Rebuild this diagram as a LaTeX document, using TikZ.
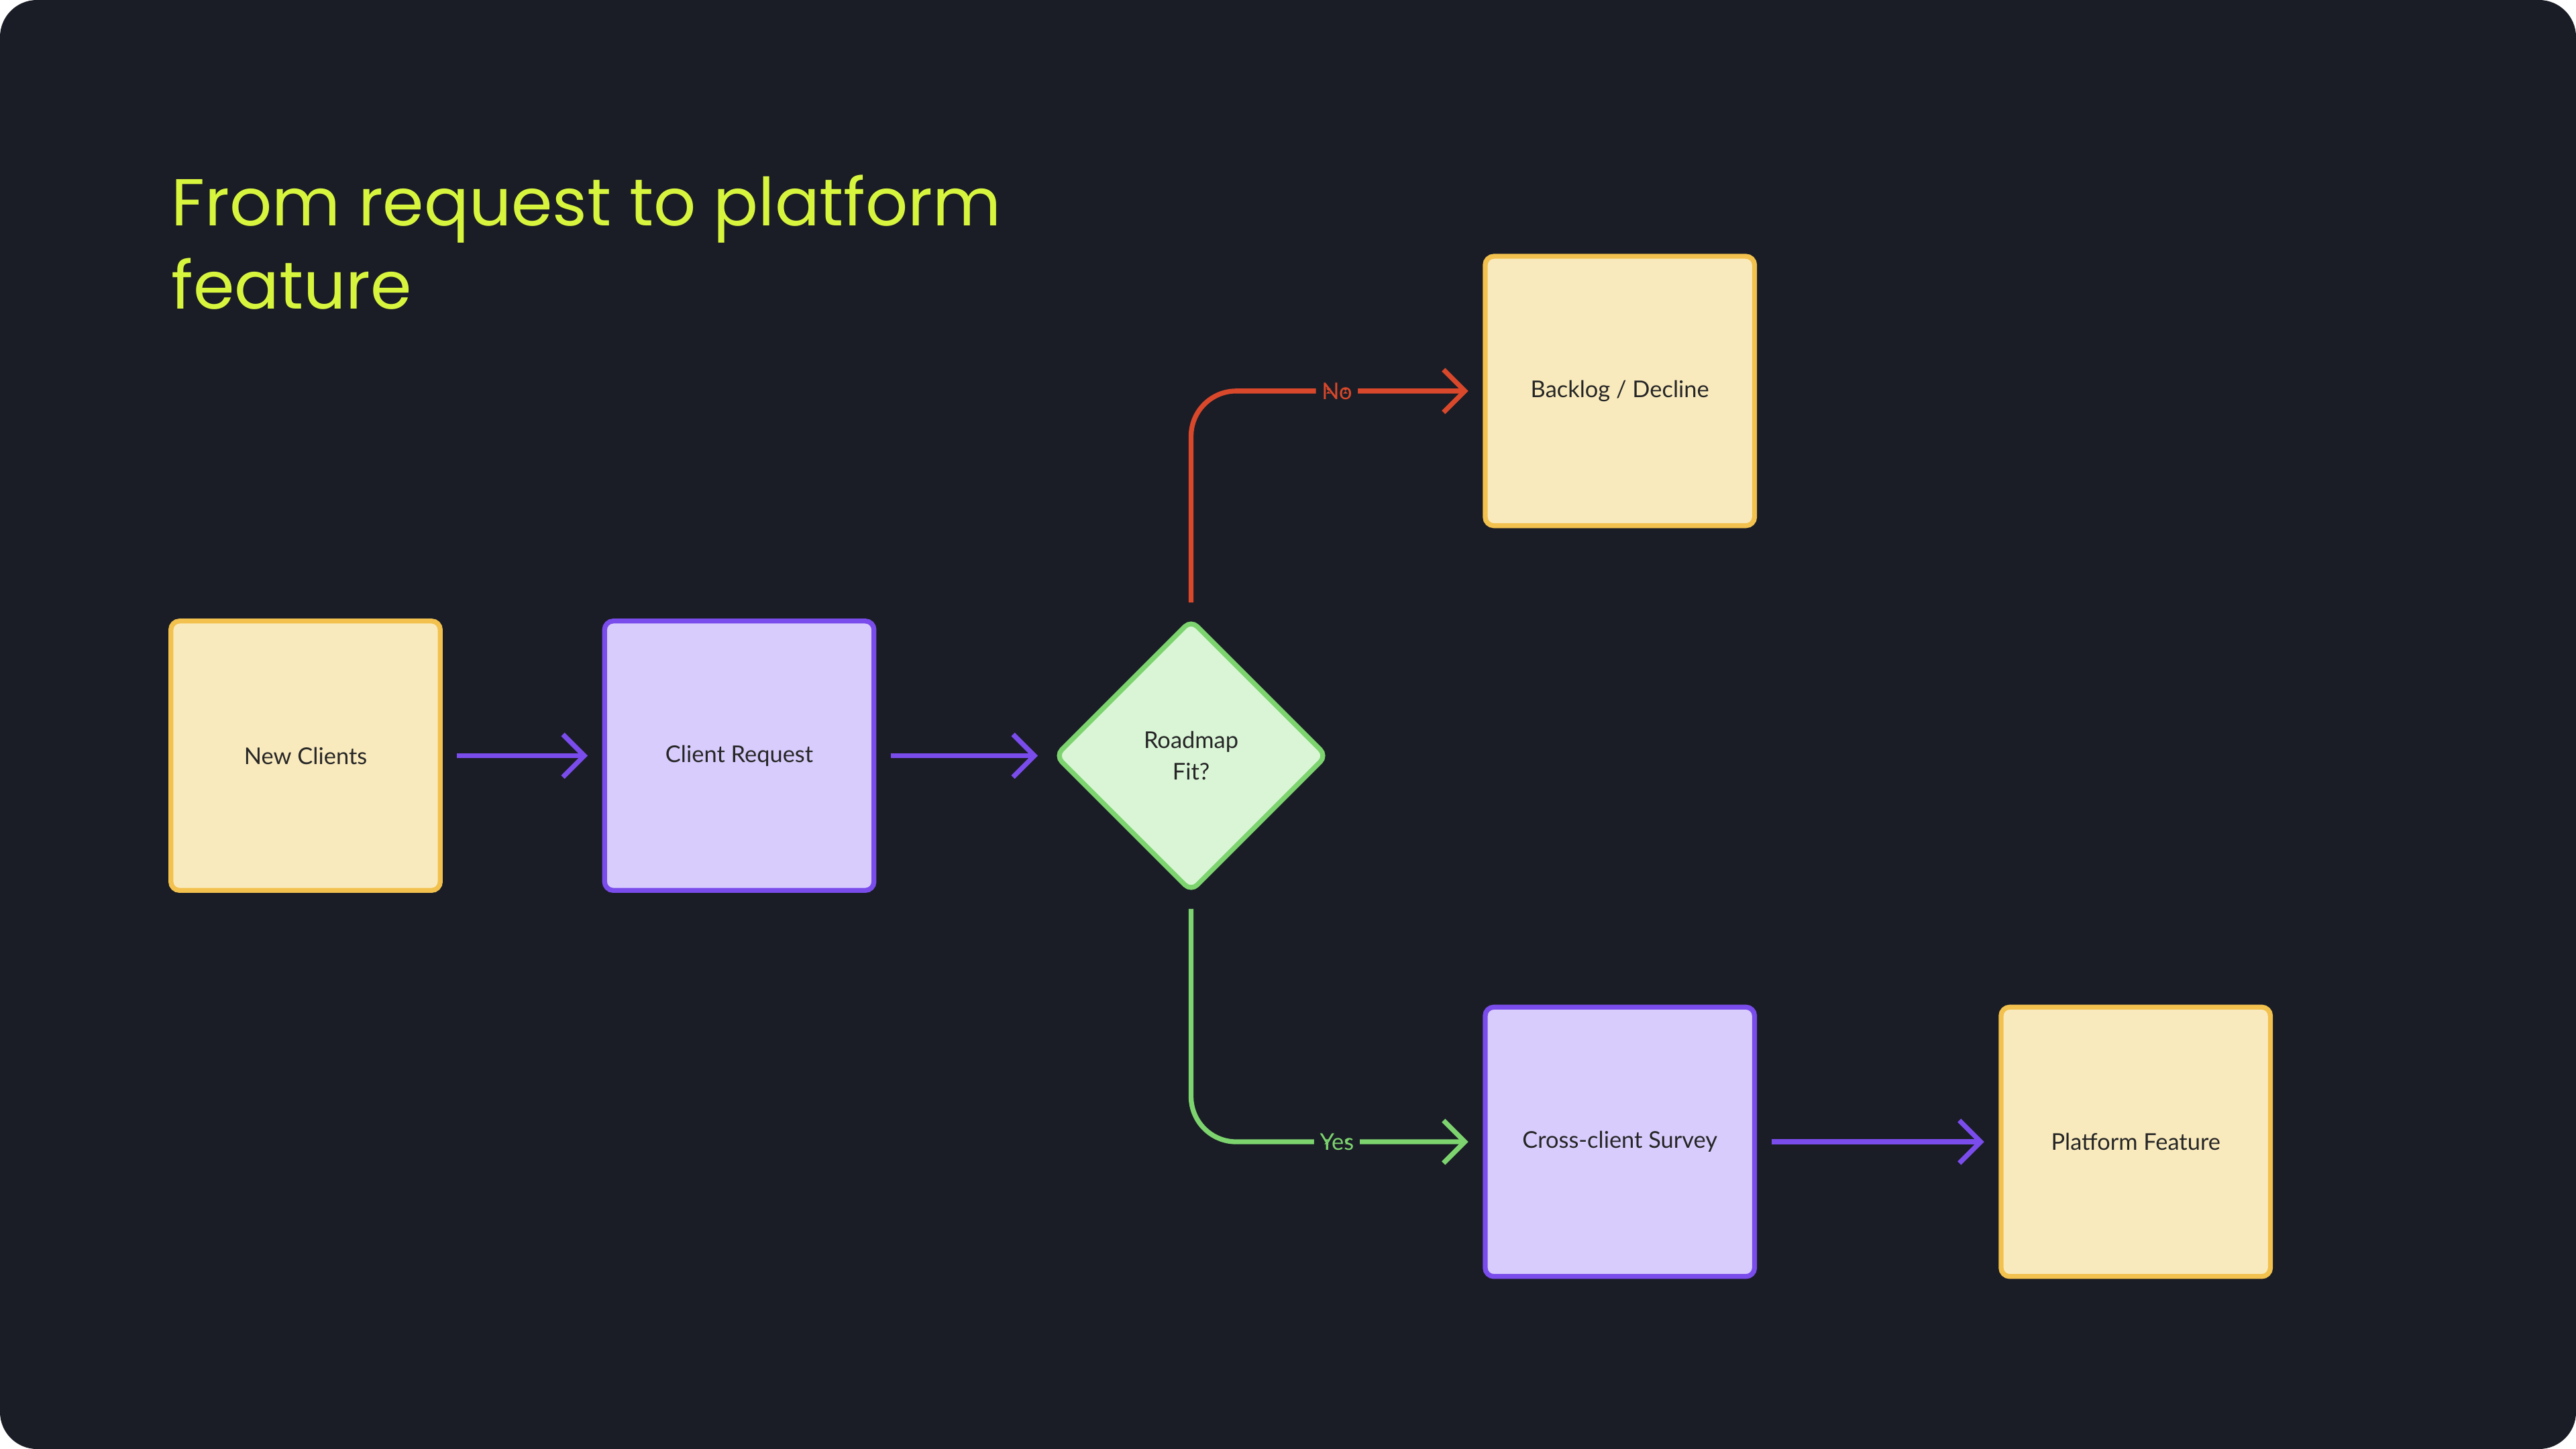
\documentclass[tikz,border=0pt]{standalone}
\usepackage{fontspec}
\setmainfont{Lato}
\newfontfamily\titlefont{Poppins}
\usetikzlibrary{arrows.meta,shapes.geometric}
\definecolor{bgdark}{HTML}{1A1D26}
\definecolor{titlelime}{HTML}{D8F53E}
\definecolor{ylwfill}{HTML}{F9EABD}
\definecolor{ylwline}{HTML}{F2C14E}
\definecolor{prpfill}{HTML}{D8CCFC}
\definecolor{prpline}{HTML}{7A4CEB}
\definecolor{grnfill}{HTML}{D9F5D6}
\definecolor{grnline}{HTML}{7DD46F}
\definecolor{nored}{HTML}{D9482B}
\tikzset{
  box/.style={draw, line width=1.7pt, rounded corners=3pt, minimum size=3.28cm,
    font=\fontsize{8}{10}\selectfont, text=black!85, align=center},
  ybox/.style={box, fill=ylwfill, draw=ylwline},
  pbox/.style={box, fill=prpfill, draw=prpline},
  decision/.style={diamond, draw=grnline, fill=grnfill, line width=1.7pt, rounded corners=3pt,
    minimum size=3.32cm, inner sep=0pt, font=\fontsize{8}{11}\selectfont, text=black!85, align=center},
  flow/.style={line width=1.7pt, -{Straight Barb[length=2.6mm,width=5.2mm,line width=1.7pt]},
    shorten <=5pt, shorten >=5pt, rounded corners=0.55cm},
  lbl/.style={fill=bgdark, inner sep=2pt, font=\fontsize{8}{10}\selectfont}
}
\begin{document}
\begin{tikzpicture}[x=0.02cm,y=-0.02cm]
  \useasboundingbox (0,0) rectangle (1568,882);
  \fill[white] (0,0) rectangle (1568,882);
  \fill[bgdark, rounded corners=0.45cm] (0,0) rectangle (1568,882);

  % title
  \node[anchor=north west, align=left, text=titlelime, inner sep=0pt,
    font=\titlefont\fontsize{23}{29}\selectfont] (title) at (104,106)
    {From request to platform\\feature};

  % boxes
  \node[ybox] (newclients) at (186,460) {New Clients};
  \node[pbox] (request) at (450,460) {Client Request};
  \node[decision] (fit) at (725,460) {Roadmap\\Fit?};
  \node[ybox] (backlog) at (986,238) {Backlog / Decline};
  \node[pbox] (survey) at (986,695) {Cross-client Survey};
  \node[ybox] (feature) at (1300,695) {Platform Feature};

  % connectors
  \draw[flow, prpline] (newclients) -- (request);
  \draw[flow, prpline] (request) -- (fit);
  \draw[flow, nored] (fit.north) |- node[lbl, pos=0.75, text=nored] {No} (backlog.west);
  \draw[flow, grnline] (fit.south) |- node[lbl, pos=0.75, text=grnline] {Yes} (survey.west);
  \draw[flow, prpline] (survey) -- (feature);
\end{tikzpicture}
\end{document}
